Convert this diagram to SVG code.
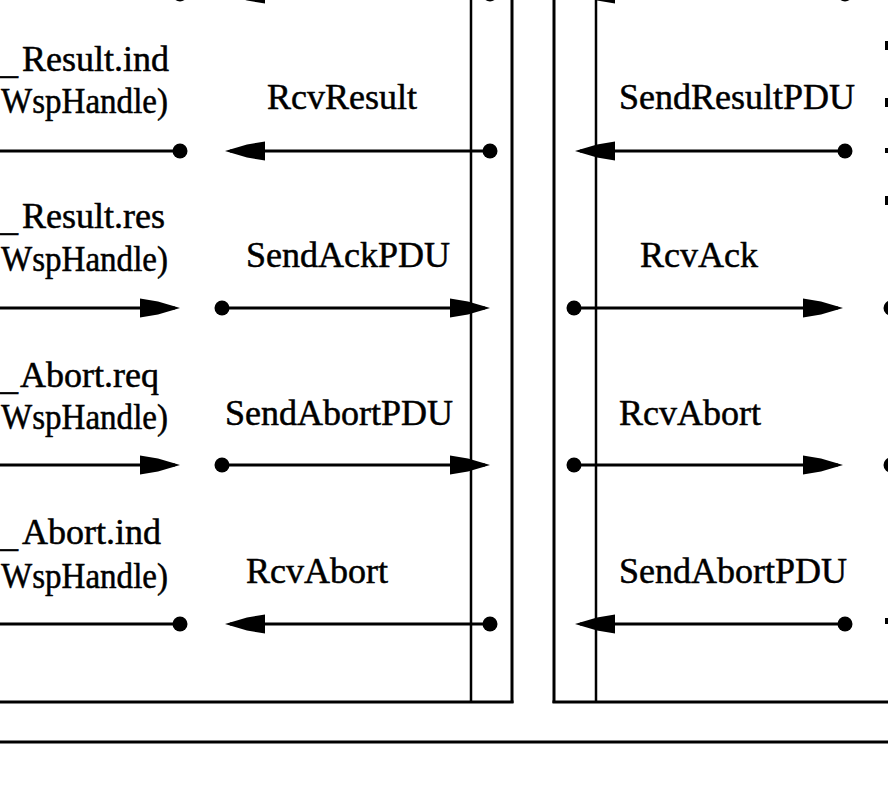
<svg xmlns="http://www.w3.org/2000/svg" xmlns:xlink="http://www.w3.org/1999/xlink" width="888" height="795" viewBox="0 0 888 795">
<style>
text{font-family:"Liberation Serif","Times New Roman",serif;font-size:36px;fill:#000;stroke:#000;stroke-width:0.5}
.ln{stroke:#000;stroke-width:3;fill:none}
.thin{stroke:#000;stroke-width:2.5;fill:none}
</style>
<defs>
<path id="ah" d="M0,0 L-22,-6.5 L-40,-9.5 L-40,9.5 L-22,6.5 Z" fill="#000"/>
<circle id="dot" r="7.5" fill="#000"/>
</defs>
<rect width="888" height="795" fill="#fff"/>

<g id="frame">
<line class="thin" x1="471" y1="0" x2="471" y2="702"/>
<line class="ln" x1="512" y1="0" x2="512" y2="703"/>
<line class="ln" x1="554" y1="0" x2="554" y2="703"/>
<line class="thin" x1="596" y1="0" x2="596" y2="702"/>
<line class="ln" x1="0" y1="702" x2="513.5" y2="702"/>
<line class="ln" x1="552.5" y1="702" x2="888" y2="702"/>
<line class="ln" x1="0" y1="742" x2="888" y2="742"/>
</g>

<g id="edge-marks">
<rect x="885" y="41" width="3" height="9"/>
<rect x="885" y="98" width="3" height="9"/>
<rect x="885" y="148" width="3" height="5"/>
<rect x="885" y="196" width="3" height="9"/>
<rect x="885" y="618" width="3" height="6"/>
</g>

<g id="labels-left">
<text><tspan x="0" y="73">_</tspan><tspan x="22" y="71">Result.ind</tspan></text>
<text x="1" y="113" textLength="167" lengthAdjust="spacingAndGlyphs">WspHandle)</text>
<text><tspan x="0" y="230">_</tspan><tspan x="22" y="228">Result.res</tspan></text>
<text x="1" y="271" textLength="167" lengthAdjust="spacingAndGlyphs">WspHandle)</text>
<text><tspan x="0" y="389">_</tspan><tspan x="20" y="387">Abort.req</tspan></text>
<text x="1" y="429" textLength="167" lengthAdjust="spacingAndGlyphs">WspHandle)</text>
<text><tspan x="0" y="546">_</tspan><tspan x="22" y="544">Abort.ind</tspan></text>
<text x="1" y="588" textLength="167" lengthAdjust="spacingAndGlyphs">WspHandle)</text>
</g>

<g id="labels-middle">
<text x="267" y="109">RcvResult</text>
<text x="246" y="267">SendAckPDU</text>
<text x="225" y="425">SendAbortPDU</text>
<text x="246" y="583">RcvAbort</text>
</g>

<g id="labels-right">
<text x="619" y="109">SendResultPDU</text>
<text x="640" y="267">RcvAck</text>
<text x="619" y="425">RcvAbort</text>
<text x="619" y="583">SendAbortPDU</text>
</g>

<g id="connectors">
<!-- row 0 (cut off at top) -->
<line class="ln" x1="0" y1="-6" x2="180" y2="-6"/><use xlink:href="#dot" x="180" y="-6"/>
<line class="ln" x1="230" y1="-6" x2="490" y2="-6"/><use xlink:href="#ah" transform="translate(225,-6) scale(-1,1)"/><use xlink:href="#dot" x="490" y="-6"/>
<line class="ln" x1="580" y1="-6" x2="845" y2="-6"/><use xlink:href="#ah" transform="translate(575,-6) scale(-1,1)"/><use xlink:href="#dot" x="845" y="-6"/>
<!-- row 1 -->
<line class="ln" x1="0" y1="151" x2="180" y2="151"/><use xlink:href="#dot" x="180" y="151"/>
<line class="ln" x1="230" y1="151" x2="490" y2="151"/><use xlink:href="#ah" transform="translate(225,151) scale(-1,1)"/><use xlink:href="#dot" x="490" y="151"/>
<line class="ln" x1="580" y1="151" x2="845" y2="151"/><use xlink:href="#ah" transform="translate(575,151) scale(-1,1)"/><use xlink:href="#dot" x="845" y="151"/>
<!-- row 2 -->
<line class="ln" x1="0" y1="308" x2="175" y2="308"/><use xlink:href="#ah" transform="translate(180,308)"/>
<use xlink:href="#dot" x="222" y="308"/><line class="ln" x1="222" y1="308" x2="485" y2="308"/><use xlink:href="#ah" transform="translate(490,308)"/>
<use xlink:href="#dot" x="574" y="308"/><line class="ln" x1="574" y1="308" x2="838" y2="308"/><use xlink:href="#ah" transform="translate(843,308)"/>
<use xlink:href="#dot" x="891" y="308"/>
<!-- row 3 -->
<line class="ln" x1="0" y1="465" x2="175" y2="465"/><use xlink:href="#ah" transform="translate(180,465)"/>
<use xlink:href="#dot" x="222" y="465"/><line class="ln" x1="222" y1="465" x2="485" y2="465"/><use xlink:href="#ah" transform="translate(490,465)"/>
<use xlink:href="#dot" x="574" y="465"/><line class="ln" x1="574" y1="465" x2="838" y2="465"/><use xlink:href="#ah" transform="translate(843,465)"/>
<use xlink:href="#dot" x="891" y="465"/>
<!-- row 4 -->
<line class="ln" x1="0" y1="624" x2="180" y2="624"/><use xlink:href="#dot" x="180" y="624"/>
<line class="ln" x1="230" y1="624" x2="490" y2="624"/><use xlink:href="#ah" transform="translate(225,624) scale(-1,1)"/><use xlink:href="#dot" x="490" y="624"/>
<line class="ln" x1="580" y1="624" x2="845" y2="624"/><use xlink:href="#ah" transform="translate(575,624) scale(-1,1)"/><use xlink:href="#dot" x="845" y="624"/>
</g>
</svg>
